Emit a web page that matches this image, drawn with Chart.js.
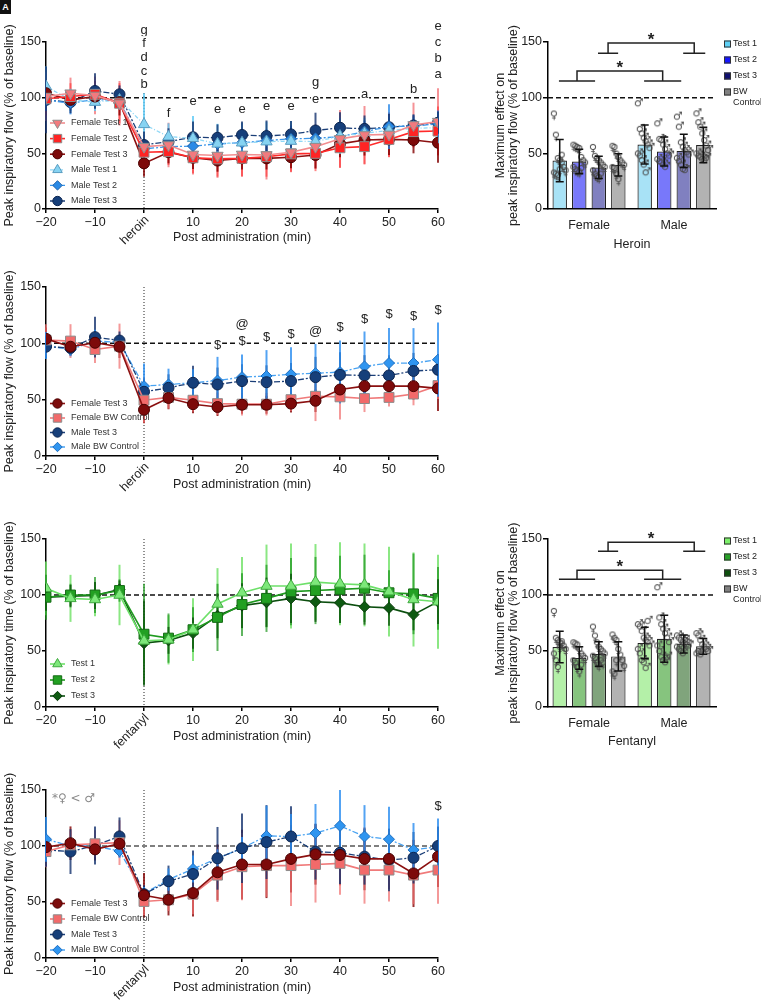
<!DOCTYPE html>
<html>
<head>
<meta charset="utf-8">
<title>Peak inspiratory flow after heroin and fentanyl</title>
<script src="https://cdn.jsdelivr.net/npm/chart.js@4.4.1/dist/chart.umd.min.js"></script>
<style>
  body { margin: 0; background: #fff; }
  #wrap { position: relative; width: 761px; height: 1000px; overflow: hidden; }
  canvas { position: absolute; }
  .tag { position: absolute; left: 0; top: 0; width: 11px; height: 14px; background: #111; color: #fff;
         font: bold 9px 'Liberation Sans', Arial, sans-serif; text-align: center; line-height: 14px; }
</style>
</head>
<body>
<div id="wrap">
  <canvas id="lineA" width="450" height="250" style="left:0;top:0"></canvas>
  <canvas id="barA" width="301" height="260" style="left:460px;top:0"></canvas>
  <canvas id="lineB" width="450" height="250" style="left:0;top:250px"></canvas>
  <canvas id="lineC" width="450" height="250" style="left:0;top:500px"></canvas>
  <canvas id="barC" width="301" height="260" style="left:460px;top:500px"></canvas>
  <canvas id="lineD" width="450" height="250" style="left:0;top:750px"></canvas>
  <div class="tag">A</div>
</div>
<script>
const FONT = "'Liberation Sans', Arial, sans-serif";
Chart.defaults.font.family = FONT;
Chart.defaults.color = '#222';

// time points (min) and axis ticks
const times = [-20, -15, -10, -5, 0, 5, 10, 15, 20, 25, 30, 35, 40, 45, 50, 55, 60];
const yTickStep = 50;

// heroin, peak inspiratory flow, all tests
const herF1 = [101, 104, 102, 95, 56, 57.5, 49, 48, 49, 48.5, 51, 56, 63, 66.5, 67, 75.5, 78.5];
const herF1Sd = [22, 14, 17, 20, 10, 20, 18, 20, 20, 22, 18, 20, 26, 26, 20, 20, 30];
const herF2 = [99, 101, 103, 95, 51, 51.5, 46, 45, 45.5, 47, 49.5, 50, 55, 56, 62.5, 69.5, 70];
const herF2Sd = [15, 12, 12, 18, 8, 12, 14, 16, 16, 18, 16, 16, 18, 16, 16, 14, 22];
const herF3 = [104, 98, 101, 96, 41, 51, 46, 43.5, 45.5, 45.5, 46.5, 48.5, 58.5, 62, 62.5, 62, 59.5];
const herF3Sd = [10, 8, 8, 12, 12, 10, 10, 10, 10, 10, 10, 12, 12, 14, 14, 12, 18];
const herM1 = [110, 98, 96, 98, 76, 65, 63.5, 58.5, 59.5, 60.5, 61, 60.5, 65.5, 68, 70.5, 72.5, 73];
const herM1Sd = [18, 10, 8, 8, 28, 12, 20, 18, 18, 18, 18, 14, 16, 14, 12, 10, 14];
const herM2 = [98, 95, 98.5, 97, 54, 56, 56.5, 58.5, 59.5, 61.5, 63, 63.5, 65, 69.5, 74, 74.5, 76.5];
const herM2Sd = [10, 10, 8, 6, 8, 8, 10, 10, 10, 10, 12, 12, 10, 10, 20, 10, 12];
const herM3 = [98, 96, 106, 103, 57.5, 60.5, 64.5, 64, 66.5, 65.5, 67, 70.5, 73, 72, 73.5, 75, 77.5];
const herM3Sd = [30, 10, 16, 8, 12, 12, 14, 12, 12, 14, 12, 16, 14, 12, 12, 10, 10];
const herMarks = [
  [0, 160, 'g'], [0, 149, 'f'], [0, 136.5, 'd'], [0, 124, 'c'], [0, 112, 'b'],
  [5, 86, 'f'], [10, 96.5, 'e'], [15, 89.5, 'e'], [20, 89.5, 'e'], [25, 92.5, 'e'], [30, 92.5, 'e'],
  [35, 114, 'g'], [35, 98.5, 'e'], [45, 102.5, 'a'], [55, 107, 'b'],
  [60, 164, 'e'], [60, 149.5, 'c'], [60, 135, 'b'], [60, 120.5, 'a']
];

// heroin, Test 3 vs body-weight control
const hbF3 = [104, 97, 100.5, 97, 41, 51.5, 46, 43.5, 45.5, 45.5, 46.5, 49, 59, 62, 62, 62, 60];
const hbF3Sd = [10, 8, 10, 10, 12, 10, 8, 8, 8, 8, 8, 10, 12, 14, 14, 12, 20];
const hbFBW = [103, 102, 94.5, 97.5, 49.5, 52, 49.5, 46.5, 46, 46, 50, 53, 52.5, 51, 52, 55, 62.5];
const hbFBWSd = [14, 15, 12, 20, 20, 10, 10, 10, 10, 10, 10, 22, 20, 12, 8, 10, 12];
const hbM3 = [97, 96, 105.5, 102.5, 57, 60.5, 65, 63.5, 66.5, 65.5, 66.5, 70, 72, 71.5, 71.5, 75.5, 76.5];
const hbM3Sd = [10, 6, 18, 8, 12, 12, 15, 15, 15, 15, 16, 18, 20, 18, 18, 16, 14];
const hbMBW = [98, 94.5, 102, 101, 62, 63.5, 65, 67, 70, 71, 72.5, 73.5, 74.5, 79.5, 82.5, 82.5, 85.5];
const hbMBWSd = [12, 6, 10, 6, 20, 14, 12, 21, 20, 23, 24, 26, 28, 31, 31, 31, 33];
const hbMarks = [
  [15, 98, '$'], [20, 117, '@'], [20, 102, '$'], [25, 105, '$'], [30, 108, '$'], [35, 111, '@'],
  [40, 114, '$'], [45, 121, '$'], [50, 126, '$'], [55, 124, '$'], [60, 129, '$']
];

// fentanyl, peak inspiratory time
const ftT1 = [106, 97, 96, 100, 59, 60, 69, 92, 102, 108, 108, 111.5, 110, 109, 103, 96, 94];
const ftT1Sd = [24, 21, 15, 27, 20, 22, 28, 32, 32, 37, 38, 34, 37, 37, 40, 42, 42];
const ftT2 = [98, 100, 100, 104, 65, 61.5, 69, 80, 91.5, 97, 103, 104, 105, 106, 102, 101, 97];
const ftT2Sd = [20, 10, 16, 10, 45, 22, 20, 30, 28, 30, 30, 30, 30, 30, 20, 36, 28];
const ftT3 = [98, 99, 99.5, 105, 57, 59.5, 66, 81.5, 90.5, 93.5, 97, 94, 93, 89.5, 88.5, 82.5, 94];
const ftT3Sd = [12, 10, 12, 8, 38, 12, 14, 20, 20, 22, 22, 18, 18, 16, 16, 14, 20];

// fentanyl, Test 3 vs body-weight control
const ffF3 = [99, 102.5, 97, 102, 56, 52, 58, 76.5, 83.5, 83.5, 88.5, 92.5, 92, 88.5, 88.5, 75.5, 90.5];
const ffF3Sd = [10, 15, 10, 12, 20, 14, 21, 25, 31, 30, 30, 27, 27, 28, 27, 30, 27];
const ffFBW = [95, 101, 102, 103, 50.5, 52, 57, 74, 81.5, 82.5, 82.5, 83.5, 84.5, 78.5, 78.5, 74, 78.5];
const ffFBWSd = [14, 12, 12, 20, 12, 10, 18, 24, 30, 28, 36, 34, 28, 30, 28, 26, 30];
const ffM3 = [96.5, 95, 100.5, 108.5, 57, 68.5, 75, 89, 98, 103.5, 108.5, 95, 94, 90.5, 87.5, 89.5, 100];
const ffM3Sd = [15, 20, 17, 17, 8, 14, 21, 28, 31, 33, 27, 25, 28, 25, 28, 23, 17];
const ffMBW = [106, 100, 100, 95.5, 57.5, 70, 79.5, 89, 98, 109, 108.5, 111.5, 118, 108.5, 106, 96.5, 99.5];
const ffMBWSd = [20, 6, 6, 6, 6, 10, 12, 8, 10, 27, 20, 26, 32, 28, 29, 24, 25];
const ffMarks = [[60, 135, '$']];

// maximum effect bar charts: Female T1..BW, Male T1..BW
const barGroups = ['Female', 'Male'];
const barLegend = ['Test 1', 'Test 2', 'Test 3', ['BW', 'Control']];
const herMax = [43.5, 42.6, 37.3, 39.7, 58, 51.6, 52.2, 57.5];
const herMaxSd = [19, 11, 10, 10, 17.5, 13, 15, 16];
const herPts = [
  [84, 65, 44, 42, 40, 36, 33, 31, 30, 29, 34, 47],
  [56, 55, 54, 53, 45, 42, 40, 36, 34, 33, 32, 35],
  [54, 46, 44, 42, 40, 38, 36, 33, 30, 28, 27, 30],
  [55, 54, 48, 45, 42, 40, 38, 36, 35, 30, 25],
  [95, 72, 68, 64, 61, 58, 55, 50, 48, 44, 40, 33],
  [77, 63, 62, 58, 54, 50, 48, 45, 43, 42, 40, 38],
  [83, 74, 60, 56, 53, 51, 49, 46, 43, 40, 36, 35],
  [86, 78, 74, 68, 62, 57, 53, 50, 48, 47, 45, 44, 46]
];
const fenMax = [53.6, 43.8, 47.3, 45.2, 57.1, 61, 56.3, 54.2];
const fenMaxSd = [14, 10, 11, 13, 14, 21, 8, 7];
const fenPts = [
  [84, 60, 58, 56, 55, 53, 50, 46, 40, 34, 52, 57],
  [56, 55, 54, 50, 46, 44, 42, 40, 38, 34, 30, 36],
  [70, 62, 56, 52, 50, 48, 46, 44, 42, 38, 36, 40, 38],
  [63, 60, 58, 50, 45, 40, 35, 30, 28, 40],
  [74, 72, 68, 62, 60, 58, 55, 52, 48, 42, 40, 35, 77],
  [107, 80, 74, 70, 66, 62, 58, 55, 50, 45, 42, 40, 45],
  [64, 62, 60, 58, 57, 56, 55, 54, 52, 50, 48, 60],
  [66, 64, 60, 56, 54, 52, 50, 48, 50, 47]
];
// significance brackets: left cap from/to, right cap from/to, low, high
const herBrackets = [[2.96, 3.99, 7.32, 8.45, 140, 149], [0.96, 2.81, 5.32, 7.22, 115, 124]];
const fenBrackets = [[2.96, 3.99, 7.32, 8.45, 139, 147], [0.96, 2.81, 5.32, 7.22, 114, 122]];

function drawErrors(chart, o) {
  const ctx = chart.ctx, y = chart.scales.y;
  chart.data.datasets.forEach((ds, i) => {
    if (!ds.sd) return;
    const meta = chart.getDatasetMeta(i);
    ctx.strokeStyle = ds.sdColor || '#000';
    ctx.lineWidth = ds.sdWidth || 2;
    meta.data.forEach((el, j) => {
      const v = ds.data[j].y, s = ds.sd[j];
      const t = y.getPixelForValue(v + s), b = y.getPixelForValue(v - s);
      ctx.beginPath();
      ctx.moveTo(el.x, t); ctx.lineTo(el.x, b);
      if (o.cap) {
        ctx.moveTo(el.x - o.cap, t); ctx.lineTo(el.x + o.cap, t);
        ctx.moveTo(el.x - o.cap, b); ctx.lineTo(el.x + o.cap, b);
      }
      ctx.stroke();
    });
  });
}

const extras = {
  id: 'extras',
  beforeDatasetsDraw(chart, args, o) {
    const {ctx, chartArea: a, scales: {x, y}} = chart;
    ctx.save();
    if (o.hline != null) {
      const py = y.getPixelForValue(o.hline);
      ctx.strokeStyle = o.hlineColor || '#111';
      ctx.lineWidth = 1.5;
      ctx.setLineDash([5, 3]);
      ctx.beginPath(); ctx.moveTo(a.left, py); ctx.lineTo(a.right, py); ctx.stroke();
    }
    if (o.vline != null) {
      const px = x.getPixelForValue(o.vline);
      ctx.strokeStyle = '#222';
      ctx.lineWidth = 1;
      ctx.setLineDash([1, 2]);
      ctx.beginPath(); ctx.moveTo(px, a.top); ctx.lineTo(px, a.bottom); ctx.stroke();
    }
    ctx.setLineDash([]);
    if (o.errors === 'behind') drawErrors(chart, o);
    ctx.restore();
  },
  afterDatasetsDraw(chart, args, o) {
    if (o.errors !== 'front') return;
    chart.ctx.save();
    drawErrors(chart, o);
    chart.ctx.restore();
  },
  afterDraw(chart, args, o) {
    const {ctx, chartArea: a, scales: {x, y}} = chart;
    ctx.save();
    ctx.textAlign = 'center';
    ctx.textBaseline = 'middle';

    (o.marks || []).forEach(([mx, my, txt]) => {
      const px = x.getPixelForValue(mx), py = y.getPixelForValue(my);
      ctx.font = '13px ' + FONT;
      const w = ctx.measureText(txt).width;
      ctx.fillStyle = '#fff';
      ctx.fillRect(px - w / 2 - 1, py - 7, w + 2, 14);
      ctx.fillStyle = '#222';
      ctx.fillText(txt, px, py);
    });

    if (o.note) {
      ctx.font = "12px 'DejaVu Sans', " + FONT;
      ctx.fillStyle = '#8a8a8a';
      ctx.textAlign = 'left';
      ctx.fillText(o.note.text, x.getPixelForValue(o.note.x), y.getPixelForValue(o.note.y));
    }

    if (o.drug) {
      ctx.save();
      ctx.translate(x.getPixelForValue(0) + 3, a.bottom + 9);
      ctx.rotate(-Math.PI / 4);
      ctx.font = '12.5px ' + FONT;
      ctx.fillStyle = '#222';
      ctx.textAlign = 'right';
      ctx.fillText(o.drug, 0, 0);
      ctx.restore();
    }

    if (o.legend) {
      const L = o.legend, sets = chart.data.datasets, n = sets.length;
      sets.forEach((ds, i) => {
        const cy = a.bottom - L.bottom - (n - 1 - i) * L.step;
        const lx = a.left + L.left;
        ctx.strokeStyle = ds.borderColor;
        ctx.lineWidth = ds.borderWidth;
        ctx.setLineDash(ds.borderDash || []);
        ctx.beginPath(); ctx.moveTo(lx, cy); ctx.lineTo(lx + 15, cy); ctx.stroke();
        ctx.setLineDash([]);
        ctx.fillStyle = ds.pointBackgroundColor;
        ctx.strokeStyle = ds.pointBorderColor;
        ctx.lineWidth = 1;
        Chart.helpers.drawPoint(ctx, {
          pointStyle: ds.pointStyle, rotation: ds.pointRotation || 0,
          radius: ds.pointRadius * 0.85, borderWidth: 1
        }, lx + 7.5, cy);
        ctx.fillStyle = '#333';
        ctx.font = '9px ' + FONT;
        ctx.textAlign = 'left';
        ctx.fillText(ds.label, lx + 21, cy);
      });
    }

    if (o.side) {
      const S = o.side;
      let cy = a.top + 2;
      S.labels.forEach((lab, i) => {
        ctx.fillStyle = S.colors[i];
        ctx.fillRect(a.right + 8, cy - 3.5, 7, 7);
        ctx.strokeStyle = '#333';
        ctx.lineWidth = 1;
        ctx.strokeRect(a.right + 8.5, cy - 3, 6, 6);
        ctx.fillStyle = '#222';
        ctx.font = '9px ' + FONT;
        ctx.textAlign = 'left';
        const lines = Array.isArray(lab) ? lab : [lab];
        lines.forEach((t, k) => ctx.fillText(t, a.right + 17, cy + k * 11));
        cy += 16;
      });
    }

    (o.brackets || []).forEach(([l1, l2, r1, r2, lo, hi]) => {
      const X = v => x.getPixelForValue(v), Y = v => y.getPixelForValue(v);
      const lc = (l1 + l2) / 2, rc = (r1 + r2) / 2;
      ctx.strokeStyle = '#222';
      ctx.lineWidth = 1.5;
      ctx.beginPath();
      ctx.moveTo(X(l1), Y(lo)); ctx.lineTo(X(l2), Y(lo));
      ctx.moveTo(X(lc), Y(lo)); ctx.lineTo(X(lc), Y(hi)); ctx.lineTo(X(rc), Y(hi)); ctx.lineTo(X(rc), Y(lo));
      ctx.moveTo(X(r1), Y(lo)); ctx.lineTo(X(r2), Y(lo));
      ctx.stroke();
      ctx.fillStyle = '#222';
      ctx.font = 'bold 17px ' + FONT;
      ctx.textAlign = 'center';
      ctx.fillText('*', X((lc + rc) / 2), Y(hi) - 3);
    });
    ctx.restore();
  }
};
Chart.register(extras);

const axisFont = {family: FONT, size: 12.5};
const tickGrid = {drawOnChartArea: false, drawTicks: true, tickLength: 4, color: '#000', lineWidth: 1.5};
const axisBorder = {color: '#000', width: 1.5};

function series(label, vals, sd, st) {
  return Object.assign({
    label, sd,
    data: times.map((t, i) => ({x: t, y: vals[i]})),
    borderWidth: 1.6, pointRadius: 5.5, pointBorderWidth: 1, tension: 0, fill: false, sdWidth: 2
  }, st);
}

const dashDot = [6, 2, 2, 2];
const stF1 = {borderColor: '#f28d8f', pointBackgroundColor: '#f27a7e', pointBorderColor: '#8c8c8c',
  pointStyle: 'triangle', pointRotation: 180, pointRadius: 6.5, sdColor: 'rgba(242,110,115,0.75)'};
const stF2 = {borderColor: '#ff2a2a', pointBackgroundColor: '#ff2424', pointBorderColor: '#8c8c8c',
  pointStyle: 'rect', pointRadius: 7, sdColor: 'rgba(255,50,50,0.6)'};
const stF3 = {borderColor: '#8b1010', pointBackgroundColor: '#7d0a0a', pointBorderColor: '#4a0000',
  pointStyle: 'circle', sdColor: 'rgba(130,0,0,0.8)'};
const stM1 = {borderColor: '#8fd8f6', pointBackgroundColor: '#86d3f2', pointBorderColor: '#5a9cc0',
  pointStyle: 'triangle', pointRadius: 6.5, borderDash: [4, 2, 1, 2], borderWidth: 1.3, sdColor: 'rgba(90,200,245,0.8)'};
const stM2 = {borderColor: '#3a96ea', pointBackgroundColor: '#2a8ae6', pointBorderColor: '#1a5fa8',
  pointStyle: 'rectRot', borderDash: dashDot, borderWidth: 1.3, sdColor: 'rgba(30,130,230,0.75)'};
const stM3 = {borderColor: '#1b3f78', pointBackgroundColor: '#163f7a', pointBorderColor: '#0c2550',
  pointStyle: 'circle', borderDash: dashDot, borderWidth: 1.3, sdColor: 'rgba(20,50,110,0.8)'};
const stFBW = {borderColor: '#f07a7a', pointBackgroundColor: '#f26a6a', pointBorderColor: '#8c8c8c',
  pointStyle: 'rect', pointRadius: 7, sdColor: 'rgba(240,110,110,0.7)'};
const stMBW = {borderColor: '#49a3f2', pointBackgroundColor: '#2f95f0', pointBorderColor: '#1f6fc0',
  pointStyle: 'rectRot', borderDash: dashDot, borderWidth: 1.3, sdColor: 'rgba(40,140,240,0.8)'};
const stG1 = {borderColor: '#6ee06a', pointBackgroundColor: '#7de87a', pointBorderColor: '#3ea83e',
  pointStyle: 'triangle', pointRadius: 6.5, sdColor: 'rgba(110,225,100,0.8)'};
const stG2 = {borderColor: '#1f9a1f', pointBackgroundColor: '#22a022', pointBorderColor: '#146a14',
  pointStyle: 'rect', pointRadius: 7, sdColor: 'rgba(30,150,30,0.7)'};
const stG3 = {borderColor: '#0c4f0f', pointBackgroundColor: '#0e5a12', pointBorderColor: '#073a09',
  pointStyle: 'rectRot', sdColor: 'rgba(10,80,10,0.75)'};

function lineChart(id, datasets, cfg) {
  return new Chart(document.getElementById(id), {
    type: 'line',
    data: {datasets},
    options: {
      responsive: false, animation: false, events: [],
      layout: {padding: {top: cfg.top, right: 12, left: 0, bottom: 0}},
      plugins: {
        legend: {display: false},
        tooltip: {enabled: false},
        extras: {
          hline: 100, hlineColor: cfg.hlineColor, vline: 0, errors: 'behind',
          drug: cfg.drug, marks: cfg.marks, note: cfg.note,
          legend: {left: 4, bottom: cfg.legendBottom, step: cfg.legendStep}
        }
      },
      scales: {
        x: {
          type: 'linear', min: -20, max: 60,
          grid: tickGrid, border: axisBorder,
          ticks: {stepSize: 10, font: axisFont, color: '#222', padding: 2, maxRotation: 0, autoSkip: false,
            callback: v => v === 0 ? '' : String(v).replace('-', '\u2212')},
          title: {display: true, text: 'Post administration (min)', font: axisFont, color: '#222',
            padding: {top: 0, bottom: cfg.titlePad}},
          afterFit: s => { s.height = cfg.bottom; }
        },
        y: {
          min: 0, max: 150,
          grid: tickGrid, border: axisBorder,
          ticks: {stepSize: yTickStep, font: axisFont, color: '#222', padding: 1},
          title: {display: true, text: cfg.yTitle, font: axisFont, color: '#222', padding: {top: 2.5, bottom: 0}},
          afterFit: s => { s.width = 46; }
        }
      }
    }
  });
}

lineChart('lineA', [
  series('Female Test 1', herF1, herF1Sd, stF1),
  series('Female Test 2', herF2, herF2Sd, stF2),
  series('Female Test 3', herF3, herF3Sd, stF3),
  series('Male Test 1', herM1, herM1Sd, stM1),
  series('Male Test 2', herM2, herM2Sd, stM2),
  series('Male Test 3', herM3, herM3Sd, stM3)
], {top: 42, bottom: 41, titlePad: 4.5, yTitle: 'Peak inspiratory flow (% of baseline)', drug: 'heroin',
  marks: herMarks, legendBottom: 8, legendStep: 15.6});

lineChart('lineB', [
  series('Female Test 3', hbF3, hbF3Sd, stF3),
  series('Female BW Control', hbFBW, hbFBWSd, stFBW),
  series('Male Test 3', hbM3, hbM3Sd, stM3),
  series('Male BW Control', hbMBW, hbMBWSd, stMBW)
], {top: 37, bottom: 44, titlePad: 7.5, yTitle: 'Peak inspiratory flow (% of baseline)', drug: 'heroin',
  marks: hbMarks, legendBottom: 9, legendStep: 14.5});

lineChart('lineC', [
  series('Test 1', ftT1, ftT1Sd, stG1),
  series('Test 2', ftT2, ftT2Sd, stG2),
  series('Test 3', ftT3, ftT3Sd, stG3)
], {top: 39, bottom: 43, titlePad: 5.5, yTitle: 'Peak inspiratory time (% of baseline)', drug: 'fentanyl',
  legendBottom: 11, legendStep: 16});

lineChart('lineD', [
  series('Female Test 3', ffF3, ffF3Sd, stF3),
  series('Female BW Control', ffFBW, ffFBWSd, stFBW),
  series('Male Test 3', ffM3, ffM3Sd, stM3),
  series('Male BW Control', ffMBW, ffMBWSd, stMBW)
], {top: 40, bottom: 42, titlePad: 4.5, yTitle: 'Peak inspiratory flow (% of baseline)', drug: 'fentanyl',
  marks: ffMarks, hlineColor: '#555', note: {x: -18.8, y: 142, text: '*\u2640 < \u2642'},
  legendBottom: 8, legendStep: 15.5});

// sex symbol used as point style for individual animals
function glyph(ch) {
  const c = document.createElement('canvas');
  c.width = 12; c.height = 14;
  const g = c.getContext('2d');
  g.font = "11px 'DejaVu Sans'";
  g.fillStyle = '#4a4a4a';
  g.textAlign = 'center';
  g.textBaseline = 'middle';
  g.fillText(ch, 6, 7);
  return c;
}
const female = glyph('\u2640'), male = glyph('\u2642');
const barX = i => (i < 4 ? i + 1 : i + 1.35);

function barChart(id, means, sds, pts, cfg) {
  const femalePts = [], malePts = [];
  pts.forEach((list, i) => list.forEach((v, j) => {
    (i < 4 ? femalePts : malePts).push({x: barX(i) + ((j % 7) - 3) * 0.1, y: v});
  }));
  return new Chart(document.getElementById(id), {
    type: 'bar',
    data: {
      datasets: [
        {type: 'scatter', data: femalePts, pointStyle: female, order: 1},
        {type: 'scatter', data: malePts, pointStyle: male, order: 1},
        {
          data: means.map((m, i) => ({x: barX(i), y: m})), sd: sds, sdColor: '#111', sdWidth: 1.5,
          backgroundColor: cfg.colors, borderColor: '#222', borderWidth: 1.2,
          barPercentage: 0.74, categoryPercentage: 1, order: 2
        }
      ]
    },
    options: {
      responsive: false, animation: false, events: [],
      layout: {padding: {top: cfg.top, right: 45, left: 0, bottom: 0}},
      plugins: {
        legend: {display: false},
        tooltip: {enabled: false},
        extras: {hline: 100, errors: 'front', cap: 4, brackets: cfg.brackets,
          side: {labels: barLegend, colors: cfg.legendColors}}
      },
      scales: {
        x: {
          type: 'linear', min: 0.4, max: 9, offset: false,
          afterBuildTicks: s => { s.ticks = [{value: 2.5}, {value: 6.85}]; },
          grid: {offset: false, drawOnChartArea: false, drawTicks: false, color: '#000'}, border: axisBorder,
          ticks: {font: axisFont, color: '#222', padding: 9, maxRotation: 0, autoSkip: false,
            callback: v => (v < 5 ? barGroups[0] : barGroups[1])},
          title: {display: true, text: cfg.drug, font: axisFont, color: '#222', padding: {top: 0, bottom: cfg.titlePad}},
          afterFit: s => { s.height = cfg.bottom; }
        },
        y: {
          min: 0, max: 150,
          grid: Object.assign({}, tickGrid, {tickLength: 5}), border: axisBorder,
          ticks: {stepSize: yTickStep, font: axisFont, color: '#222', padding: 1},
          title: {display: true, text: ['Maximum effect on', 'peak inspiratory flow (% of baseline)'],
            font: {family: FONT, size: 12.5, lineHeight: 1.05}, color: '#222', padding: {top: 33.5, bottom: 0}},
          afterFit: s => { s.width = 88; }
        }
      }
    }
  });
}

barChart('barA', herMax, herMaxSd, herPts, {
  top: 42, bottom: 51, titlePad: 7.5, drug: 'Heroin', brackets: herBrackets,
  colors: ['#a8e2f6', '#7878fa', '#8080c0', '#b2b2b2', '#a8e2f6', '#7878fa', '#8080c0', '#b2b2b2'],
  legendColors: ['#5ed0f5', '#1515ff', '#101070', '#808080']
});

barChart('barC', fenMax, fenMaxSd, fenPts, {
  top: 39, bottom: 53, titlePad: 10.5, drug: 'Fentanyl', brackets: fenBrackets,
  colors: ['#b4f0a8', '#86c47e', '#80a47c', '#b2b2b2', '#b4f0a8', '#86c47e', '#80a47c', '#b2b2b2'],
  legendColors: ['#7cf06a', '#28a028', '#0d4f0d', '#808080']
});
</script>
</body>
</html>
